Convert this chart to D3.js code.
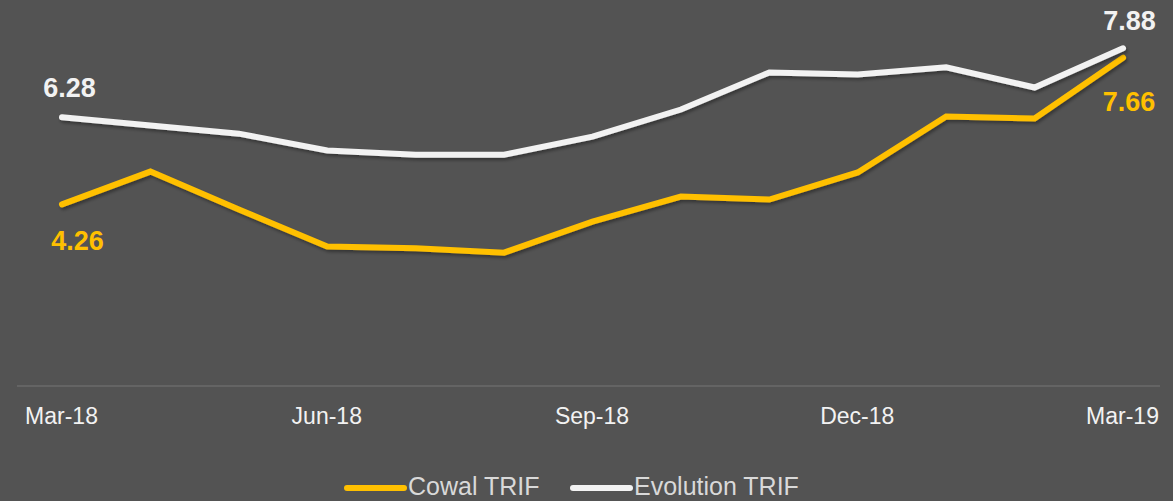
<!DOCTYPE html>
<html>
<head>
<meta charset="utf-8">
<script src="https://cdn.jsdelivr.net/npm/d3@7"></script>
<style>
  html, body { margin: 0; padding: 0; background: #535353; }
  svg { display: block; font-family: "Liberation Sans", Arial, sans-serif; }
</style>
</head>
<body>
<div id="chart"></div>
<script>
// months along the x axis
var months = ["Mar-18","Apr-18","May-18","Jun-18","Jul-18","Aug-18","Sep-18",
              "Oct-18","Nov-18","Dec-18","Jan-19","Feb-19","Mar-19"];
var tickMonths = ["Mar-18","Jun-18","Sep-18","Dec-18","Mar-19"];

// series values (rolling TRIF)
var cowalTrif     = [4.26, 5.02, 4.14, 3.28, 3.24, 3.14, 3.86, 4.44, 4.37, 5.00, 6.30, 6.25, 7.66];
var evolutionTrif = [6.28, 6.09, 5.90, 5.51, 5.41, 5.41, 5.83, 6.46, 7.32, 7.27, 7.44, 6.97, 7.88];

var seriesNames = ["Cowal TRIF", "Evolution TRIF"];

var width = 1173, height = 501;

var svg = d3.select("#chart").append("svg")
    .attr("width", width)
    .attr("height", height);

svg.append("rect").attr("width", width).attr("height", height).attr("fill", "#535353");

// soft shadow under the lines
var defs = svg.append("defs");
defs.append("filter")
    .attr("id", "shadow")
    .attr("x", "-5%").attr("y", "-20%").attr("width", "110%").attr("height", "140%")
  .append("feDropShadow")
    .attr("dx", 1.5).attr("dy", 2.5)
    .attr("stdDeviation", 1.5)
    .attr("flood-color", "#000")
    .attr("flood-opacity", 0.35);

var x = d3.scalePoint().domain(months).range([62, 1123]);
var y = d3.scaleLinear().domain([0, 9]).range([388, 0]);

// baseline
svg.append("line")
    .attr("x1", 17).attr("x2", 1160)
    .attr("y1", 386).attr("y2", 386)
    .attr("stroke", "#6a6a6a")
    .attr("stroke-width", 1.5);

// x axis labels
var xAxis = svg.append("g")
    .attr("transform", "translate(0,386)")
    .call(d3.axisBottom(x).tickValues(tickMonths).tickSize(0));
xAxis.select(".domain").remove();
xAxis.selectAll("text")
    .attr("y", 38)
    .attr("dy", 0)
    .attr("dx", -1)
    .attr("fill", "#f2f2f2")
    .style("font-size", "23px")
    .style("font-family", "'Liberation Sans', Arial, sans-serif");

var line = d3.line()
    .x(function(d, i) { return x(months[i]); })
    .y(function(d) { return y(d); });

var series = [
  { name: seriesNames[0], values: cowalTrif, color: "#FFC000" },
  { name: seriesNames[1], values: evolutionTrif, color: "#F2F2F2" }
];

svg.selectAll(".series")
  .data(series)
  .enter()
  .append("path")
    .attr("class", "series")
    .attr("d", function(d) { return line(d.values); })
    .attr("fill", "none")
    .attr("stroke", function(d) { return d.color; })
    .attr("stroke-width", 6)
    .attr("stroke-linecap", "round")
    .attr("stroke-linejoin", "miter")
    .attr("filter", "url(#shadow)");

// end point labels
var last = months.length - 1;
var endLabels = [
  { value: evolutionTrif[0],    i: 0,    color: "#F2F2F2", dx: 7.5, dy: -20 },
  { value: cowalTrif[0],        i: 0,    color: "#FFC000", dx: 15.5, dy: 45.5 },
  { value: evolutionTrif[last], i: last, color: "#F2F2F2", dx: 6.5, dy: -18 },
  { value: cowalTrif[last],     i: last, color: "#FFC000", dx: 6, dy: 53 }
];

svg.selectAll(".end-label")
  .data(endLabels)
  .enter()
  .append("text")
    .attr("class", "end-label")
    .attr("x", function(d) { return x(months[d.i]) + d.dx; })
    .attr("y", function(d) { return y(d.value) + d.dy; })
    .attr("text-anchor", "middle")
    .attr("fill", function(d) { return d.color; })
    .attr("font-size", "27px")
    .attr("font-weight", "bold")
    .text(function(d) { return d.value.toFixed(2); });

// legend
var legendX = [347, 573];
var legend = svg.selectAll(".legend")
  .data(series)
  .enter()
  .append("g")
    .attr("class", "legend")
    .attr("transform", function(d, i) { return "translate(" + legendX[i] + ",488)"; });

legend.append("line")
    .attr("x1", 0).attr("x2", 57)
    .attr("y1", 0).attr("y2", 0)
    .attr("stroke", function(d) { return d.color; })
    .attr("stroke-width", 6)
    .attr("stroke-linecap", "round");

legend.append("text")
    .attr("x", 61)
    .attr("y", 7)
    .attr("fill", "#d9d9d9")
    .attr("font-size", "25px")
    .text(function(d) { return d.name; });
</script>
</body>
</html>
